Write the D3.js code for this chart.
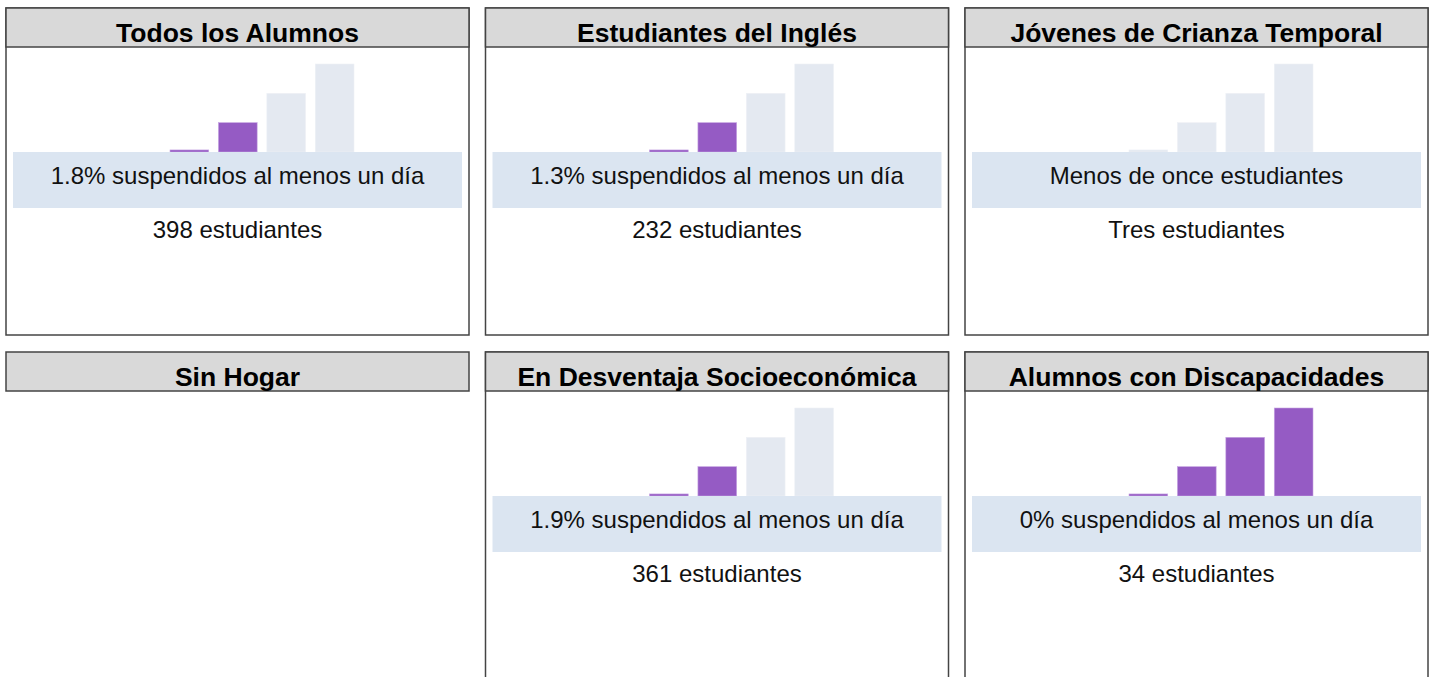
<!DOCTYPE html>
<html>
<head>
<meta charset="utf-8">
<script src="https://cdn.jsdelivr.net/npm/d3@7"></script>
<style>
  body { margin: 0; background: #fff; }
</style>
</head>
<body>
<div id="chart-area"></div>
<script>
// student groups (panel titles)
var groups = ["Todos los Alumnos", "Estudiantes del Inglés", "Jóvenes de Crianza Temporal",
              "Sin Hogar", "En Desventaja Socioeconómica", "Alumnos con Discapacidades"];

// text inside the blue band
var bandText = ["1.8% suspendidos al menos un día", "1.3% suspendidos al menos un día",
                "Menos de once estudiantes", null,
                "1.9% suspendidos al menos un día", "0% suspendidos al menos un día"];

// student counts
var counts = ["398 estudiantes", "232 estudiantes", "Tres estudiantes", null,
              "361 estudiantes", "34 estudiantes"];

// how many of the indicator bars are filled (null = no data shown)
var filled = [2, 2, 0, null, 2, 4];

// indicator bars and their heights
var levels = [1, 2, 3, 4];
var levelHeights = [0.07, 1, 2, 3];

var FONT = "'Liberation Sans', Arimo, Arial, Helvetica, sans-serif";

var width = 1433, height = 677;
var panelW = 463, panelH = 327, stepX = 479.5, stepY = 344, headerH = 39;
var x0 = 6, y0 = 8;

var svg = d3.select("#chart-area")
    .append("svg")
        .attr("width", width)
        .attr("height", height);

// bar scales (panel coordinates)
var x = d3.scaleBand()
    .domain(levels)
    .range([164, 348])
    .paddingInner(0.2)
    .paddingOuter(0);

var y = d3.scaleLinear()
    .domain([0, 3])
    .range([144, 56]);

groups.forEach(function(name, i){
    var col = i % 3, row = Math.floor(i / 3);
    var g = svg.append("g")
        .attr("transform", "translate(" + (x0 + col * stepX) + ", "
            + (y0 + row * stepY) + ")");

    var hasData = filled[i] !== null;

    // panel border
    if (hasData) {
        g.append("rect")
            .attr("x", 0).attr("y", 0)
            .attr("width", panelW).attr("height", panelH)
            .attr("fill", "#fff")
            .attr("stroke", "#444")
            .attr("stroke-width", 1.5);
    }

    // header
    g.append("rect")
        .attr("x", 0).attr("y", 0)
        .attr("width", panelW).attr("height", headerH)
        .attr("fill", "#d9d9d9")
        .attr("stroke", "#444")
        .attr("stroke-width", 1.5);

    g.append("text")
        .attr("x", panelW / 2)
        .attr("y", 34)
        .attr("text-anchor", "middle")
        .attr("font-family", FONT)
        .attr("font-size", "26.5px")
        .attr("font-weight", "bold")
        .attr("fill", "#000")
        .text(name);

    if (!hasData) return;

    // indicator bars
    g.selectAll("rect.bar")
        .data(levels)
        .enter()
        .append("rect")
            .attr("class", "bar")
            .attr("x", function(d){ return x(d); })
            .attr("y", function(d, j){ return y(levelHeights[j]); })
            .attr("width", x.bandwidth())
            .attr("height", function(d, j){ return y(0) - y(levelHeights[j]); })
            .attr("fill", function(d){ return d <= filled[i] ? "#955bc4" : "#e4e9f1"; })
            .attr("stroke", function(d){ return d <= filled[i] ? "#c6a5e2" : "#eef1f6"; })
            .attr("stroke-width", 0.6);

    // blue band
    g.append("rect")
        .attr("x", 7).attr("y", 144)
        .attr("width", panelW - 14).attr("height", 56)
        .attr("fill", "#dbe5f1");

    g.append("text")
        .attr("x", panelW / 2)
        .attr("y", 175.5)
        .attr("text-anchor", "middle")
        .attr("font-family", FONT)
        .attr("font-size", "24px")
        .attr("fill", "#111")
        .text(bandText[i]);

    g.append("text")
        .attr("x", panelW / 2)
        .attr("y", 229.5)
        .attr("text-anchor", "middle")
        .attr("font-family", FONT)
        .attr("font-size", "24px")
        .attr("fill", "#111")
        .text(counts[i]);
});
</script>
</body>
</html>
